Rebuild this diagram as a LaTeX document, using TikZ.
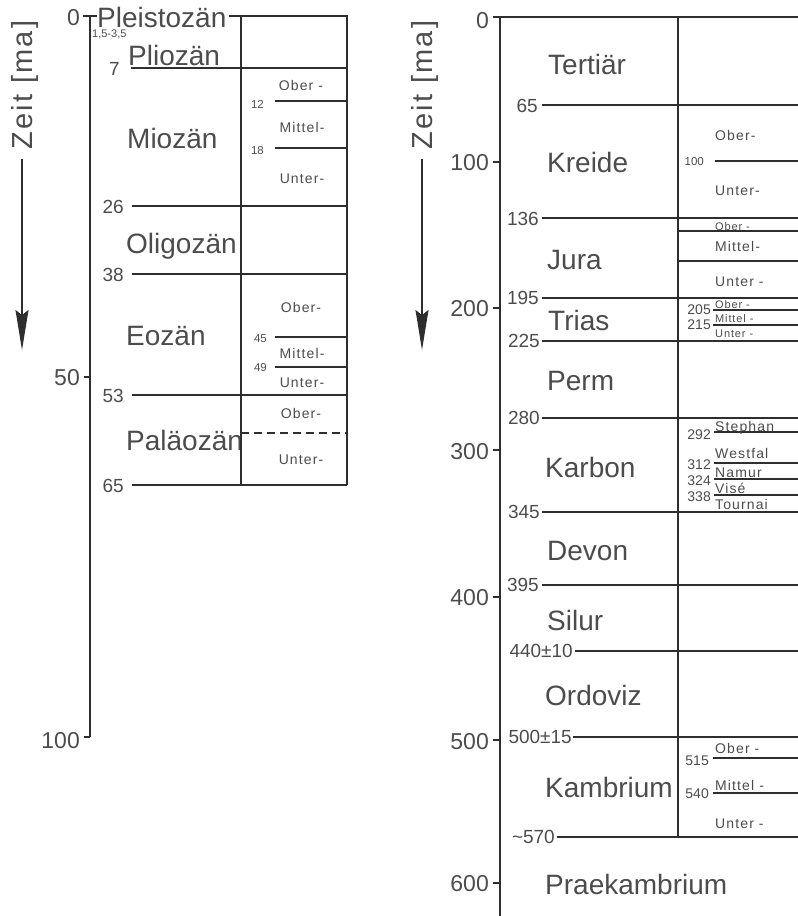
\documentclass[tikz,border=0pt]{standalone}
\usepackage{fontspec}
\setmainfont{Liberation Sans}
\newfontfamily\lettering[LetterSpace=8]{Liberation Sans}
\usetikzlibrary{arrows.meta}
\definecolor{ink}{gray}{0.3}
\definecolor{rulecol}{gray}{0.18}

\begin{document}
\begin{tikzpicture}[
  x=1pt, y=-1pt,
  era/.style={font=\fontsize{28}{30}\selectfont, text=ink, inner sep=0pt, text height=20pt, text depth=0pt, anchor=west},
  bnum/.style={font=\fontsize{19}{21}\selectfont, text=ink, inner sep=0pt, text height=13.5pt, text depth=0pt, anchor=east},
  tnum/.style={font=\fontsize{23}{25}\selectfont, text=ink, inner sep=0pt, text height=16.5pt, text depth=0pt, anchor=east},
  sub/.style={font=\lettering\fontsize{14}{16}\selectfont, text=ink, inner sep=0pt, text height=10pt, text depth=0pt},
  subs/.style={sub, font=\lettering\fontsize{11}{13}\selectfont, text height=8pt},
  snum/.style={font=\fontsize{14}{16}\selectfont, text=ink, inner sep=0pt, text height=10pt, text depth=0pt, anchor=east},
  snums/.style={snum, font=\fontsize{11.5}{13}\selectfont, text height=8pt},
  zeit/.style={font=\lettering\fontsize{29}{31}\selectfont, text=ink, inner sep=0pt, text height=21pt, text depth=0pt, rotate=90},
  bound/.style={draw=rulecol, line width=1.3pt},
  subline/.style={draw=rulecol, line width=1.1pt},
  arr/.style={draw=rulecol, line width=1.3pt, -{Stealth[length=40pt,width=13pt,inset=5pt]}}
]
\useasboundingbox (0,0) rectangle (798,916);

% ---------- left: Tertiaer in detail ----------
\node[zeit] (zeitL) at (22,85) {Zeit [ma]};
\coordinate (tipL) at (22,350);
\draw[arr] ([yshift=-9pt]zeitL.west) -- (tipL);

\draw[bound] (90,16) -- (90,737);
\draw[bound] (83,16) -- (97,16);
\draw[bound] (84,377) -- (90,377);
\draw[bound] (84,737) -- (90,737);
\node[tnum] (tL0) at (80,17) {0};
\node[tnum] (tL50) at (80,377) {50};
\node[tnum] (tL100) at (80,740) {100};

\node[era] (pleist) at (97,17) {Pleistozän};
\node[snums, anchor=west, font=\fontsize{11}{12}\selectfont, text height=7.5pt] (b15) at (92,34) {1,5-3,5};
\node[era] (plio) at (128,55) {Pliozän};
\node[era] (mio) at (127,138) {Miozän};
\node[era] (oligo) at (126,243) {Oligozän};
\node[era] (eo) at (126,335) {Eozän};
\node[era] (palaeo) at (126,440) {Paläozän};

% table frame
\draw[bound] ([xshift=2pt]pleist.east |- 0,16) -- (347,16) -- (347,485);
\draw[bound] (241,16) -- (241,485);
\draw[bound] (131,68) -- (347,68);
\draw[bound] (132,206) -- (347,206);
\draw[bound] (132,274) -- (347,274);
\draw[bound] (132,395) -- (347,395);
\draw[bound] (132,485) -- (347,485);

\node[bnum] (b7) at (120,69) {7};
\node[bnum] (b26) at (124,207) {26};
\node[bnum] (b38) at (124,275) {38};
\node[bnum] (b53) at (124,396) {53};
\node[bnum] (b65L) at (124,486) {65};

% Miozaen / Eozaen / Palaeozaen subdivisions
\draw[subline] (275,101) -- (347,101);
\draw[subline] (275,148) -- (347,148);
\draw[subline] (275,337) -- (347,337);
\draw[subline] (275,367) -- (347,367);
\draw[subline, dash pattern=on 8pt off 5pt] (241,433) -- (347,433);

\node[snums] (b12) at (264,104) {12};
\node[snums] (b18) at (264,150) {18};
\node[snums] (b45) at (267,338) {45};
\node[snums] (b49) at (267,367) {49};

\node[sub] (mioO) at (301,85) {Ober -};
\node[sub] (mioM) at (302,127) {Mittel-};
\node[sub] (mioU) at (302,178) {Unter-};
\node[sub] (eoO) at (301,307) {Ober-};
\node[sub] (eoM) at (302,353) {Mittel-};
\node[sub] (eoU) at (302,382) {Unter-};
\node[sub] (palO) at (301,413) {Ober-};
\node[sub] (palU) at (301,459) {Unter-};

% ---------- right: whole time scale ----------
\node[zeit] (zeitR) at (422,85) {Zeit [ma]};
\coordinate (tipR) at (422,350);
\draw[arr] ([yshift=-9pt]zeitR.west) -- (tipR);

\draw[bound] (500,17) -- (500,916);
\draw[bound] (493,17) -- (798,17);
\draw[bound] (493,162) -- (500,162);
\draw[bound] (493,308) -- (500,308);
\draw[bound] (493,450) -- (500,450);
\draw[bound] (493,597) -- (500,597);
\draw[bound] (493,740) -- (500,740);
\draw[bound] (493,883) -- (500,883);
\node[tnum] (tR0) at (489,20) {0};
\node[tnum] (tR100) at (489,162) {100};
\node[tnum] (tR200) at (489,308) {200};
\node[tnum] (tR300) at (489,451) {300};
\node[tnum] (tR400) at (489,597) {400};
\node[tnum] (tR500) at (489,741) {500};
\node[tnum] (tR600) at (489,883) {600};

\draw[bound] (678,17) -- (678,837);
\draw[bound] (542,105) -- (798,105);
\draw[bound] (542,218) -- (798,218);
\draw[bound] (542,298) -- (798,298);
\draw[bound] (542,341) -- (798,341);
\draw[bound] (542,418) -- (798,418);
\draw[bound] (542,512) -- (798,512);
\draw[bound] (542,585) -- (798,585);
\draw[bound] (575,651) -- (798,651);
\draw[bound] (573,737) -- (798,737);
\draw[bound] (557,837) -- (798,837);

\node[era] (tert) at (548,64) {Tertiär};
\node[era] (kreide) at (547,162) {Kreide};
\node[era] (jura) at (547,259) {Jura};
\node[era] (trias) at (548,320) {Trias};
\node[era] (perm) at (547,380) {Perm};
\node[era] (karbon) at (545,467) {Karbon};
\node[era] (devon) at (547,550) {Devon};
\node[era] (silur) at (547,620) {Silur};
\node[era] (ordo) at (545,695) {Ordoviz};
\node[era] (kamb) at (545,787) {Kambrium};
\node[era] (praek) at (545,884) {Praekambrium};

\node[bnum] (b65) at (538,106) {65};
\node[bnum] (b136) at (539,219) {136};
\node[bnum] (b195) at (539,298) {195};
\node[bnum] (b225) at (540,341) {225};
\node[bnum] (b280) at (540,418) {280};
\node[bnum] (b345) at (540,512) {345};
\node[bnum] (b395) at (539,585) {395};
\node[bnum] (b440) at (573,651) {440±10};
\node[bnum] (b500) at (572,737) {500±15};
\node[bnum] (b570) at (555,837) {\textasciitilde570};

% Kreide
\draw[subline] (715,161) -- (798,161);
\node[snums] (b100) at (704,161) {100};
\node[sub, anchor=west] (krO) at (715,135) {Ober-};
\node[sub, anchor=west] (krU) at (715,190) {Unter-};
% Jura
\draw[subline] (678,231) -- (798,231);
\draw[subline] (678,261) -- (798,261);
\node[subs, anchor=west] (juO) at (715,226) {Ober -};
\node[sub, anchor=west] (juM) at (715,246) {Mittel-};
\node[sub, anchor=west] (juU) at (715,281) {Unter -};
% Trias
\draw[subline] (713,310) -- (798,310);
\draw[subline] (713,325) -- (798,325);
\node[snum] (b205) at (711,309) {205};
\node[snum] (b215) at (711,324) {215};
\node[subs, anchor=west] (trO) at (715,304) {Ober -};
\node[subs, anchor=west] (trM) at (715,318) {Mittel -};
\node[subs, anchor=west] (trU) at (715,333) {Unter -};
% Karbon
\draw[subline] (714,432) -- (798,432);
\draw[subline] (714,463) -- (798,463);
\draw[subline] (714,479) -- (798,479);
\draw[subline] (714,495) -- (798,495);
\node[snum] (b292) at (711,434) {292};
\node[snum] (b312) at (711,464) {312};
\node[snum] (b324) at (711,480) {324};
\node[snum] (b338) at (711,496) {338};
\node[sub, anchor=west] (stephan) at (715,426) {Stephan};
\node[sub, anchor=west] (westfal) at (715,453) {Westfal};
\node[sub, anchor=west] (namur) at (715,472) {Namur};
\node[sub, anchor=west] (vise) at (715,488) {Visé};
\node[sub, anchor=west] (tournai) at (715,504) {Tournai};
% Kambrium
\draw[subline] (713,758) -- (798,758);
\draw[subline] (713,793) -- (798,793);
\node[snum] (b515) at (709,760) {515};
\node[snum] (b540) at (709,793) {540};
\node[sub, anchor=west] (kaO) at (715,748) {Ober -};
\node[sub, anchor=west] (kaM) at (715,785) {Mittel -};
\node[sub, anchor=west] (kaU) at (715,823) {Unter -};
\end{tikzpicture}
\end{document}
